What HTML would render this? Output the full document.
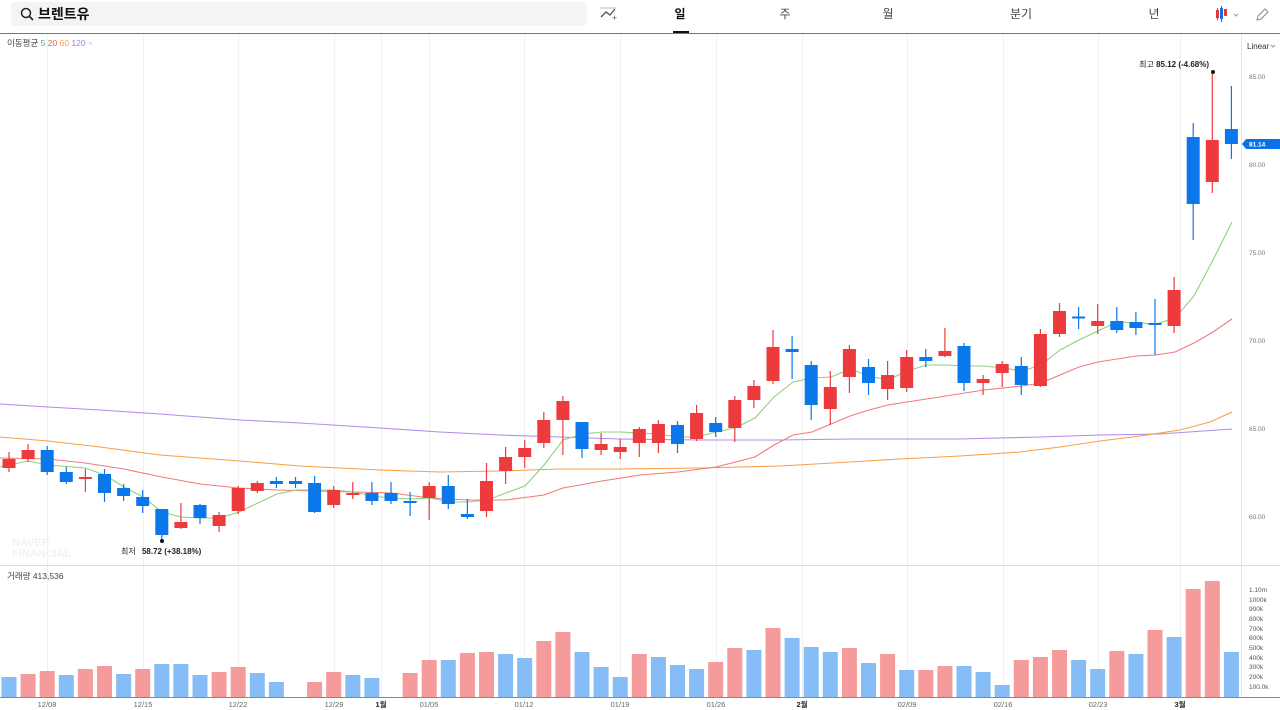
<!DOCTYPE html>
<html><head><meta charset="utf-8">
<style>
body{margin:0;width:1280px;height:710px;overflow:hidden;background:#fff;font-family:"Liberation Sans","Noto Sans CJK KR",sans-serif;}
svg{display:block}
text{font-family:"Liberation Sans","Noto Sans CJK KR",sans-serif;}
</style></head><body>
<svg id="s" width="1280" height="710" viewBox="0 0 1280 710" xmlns="http://www.w3.org/2000/svg">
<rect x="0" y="0" width="1280" height="710" fill="#fff"/>
<!-- header -->
<rect x="11" y="2" width="576" height="24" rx="4" fill="#f3f4f6"/>
<circle cx="26" cy="13" r="4.5" fill="none" stroke="#222" stroke-width="1.5"/>
<line x1="29.5" y1="16.5" x2="33" y2="20" stroke="#222" stroke-width="1.6"/>
<text x="38" y="19" font-size="14" font-weight="bold" fill="#111">브렌트유</text>
<polyline points="601,17 606,12 610,15 615,9" fill="none" stroke="#555" stroke-width="1.3"/>
<line x1="600" y1="8" x2="616" y2="8" stroke="#bbb" stroke-width="1"/>
<text x="612" y="21" font-size="9" fill="#555">+</text>
<text x="680" y="18" font-size="12" font-weight="bold" fill="#111" text-anchor="middle">일</text>
<rect x="673" y="31" width="16" height="2.5" fill="#111"/>
<text x="785" y="18" font-size="12" fill="#444" text-anchor="middle">주</text>
<text x="888" y="18" font-size="12" fill="#444" text-anchor="middle">월</text>
<text x="1021" y="18" font-size="12" fill="#444" text-anchor="middle">분기</text>
<text x="1154" y="18" font-size="12" fill="#444" text-anchor="middle">년</text>
<rect x="1216" y="10" width="3" height="8" fill="#e8363a"/><line x1="1217.5" y1="8" x2="1217.5" y2="20" stroke="#e8363a"/>
<rect x="1220" y="8" width="3" height="11" fill="#0a72e6"/><line x1="1221.5" y1="6" x2="1221.5" y2="22" stroke="#0a72e6"/>
<rect x="1224" y="9" width="3" height="7" fill="#e8363a"/>
<polyline points="1234,14 1236,16 1238,14" fill="none" stroke="#999"/>
<path d="M1257,20 L1258,16 L1265,9 L1268,12 L1261,19 Z" fill="none" stroke="#888"/>
<line x1="0" y1="33.5" x2="1280" y2="33.5" stroke="#777" stroke-width="1"/>
<g id="grid" stroke="#f0f0f0" stroke-width="1"></g>
<line x1="1241.5" y1="34" x2="1241.5" y2="697" stroke="#e6e6e6"/>
<line x1="0" y1="565.5" x2="1280" y2="565.5" stroke="#ddd"/>
<line x1="0" y1="697.5" x2="1280" y2="697.5" stroke="#888"/>
<!-- legend -->
<text x="7" y="46" font-size="8.5" fill="#444">이동평균 <tspan fill="#5cb85c">5</tspan> <tspan fill="#f0595c">20</tspan> <tspan fill="#f5a043">60</tspan> <tspan fill="#a77de0">120</tspan> <tspan fill="#ccc">×</tspan></text>
<text x="7" y="579" font-size="8.5" fill="#444">거래량 413,536</text>
<text x="12" y="546" font-size="11" font-weight="bold" fill="#f2f2f2">NAVER</text>
<text x="12" y="557" font-size="11" font-weight="bold" fill="#f2f2f2">FINANCIAL</text>
<!-- right axis -->
<text x="1247" y="49" font-size="8" fill="#333">Linear</text>
<polyline points="1271,45 1273,47 1275,45" fill="none" stroke="#999"/>
<g font-size="6.5" fill="#777">
<text x="1249" y="79">85.00</text><text x="1249" y="167">80.00</text><text x="1249" y="255">75.00</text>
<text x="1249" y="343">70.00</text><text x="1249" y="431">65.00</text><text x="1249" y="519">60.00</text>
</g>
<path d="M1242,144 L1246,139 L1280,139 L1280,149 L1246,149 Z" fill="#0a72e6"/>
<text x="1249" y="146.5" font-size="6.5" font-weight="bold" fill="#fff">81.14</text>
<g font-size="6.5" fill="#555">
<text x="1249" y="592">1.10m</text><text x="1249" y="602">1000k</text><text x="1249" y="611">900k</text>
<text x="1249" y="621">800k</text><text x="1249" y="631">700k</text><text x="1249" y="640">600k</text>
<text x="1249" y="650">500k</text><text x="1249" y="660">400k</text><text x="1249" y="669">300k</text>
<text x="1249" y="679">200k</text><text x="1249" y="689">100.0k</text>
</g>
<g font-size="7.5" fill="#666" text-anchor="middle">
<text x="47" y="707">12/08</text><text x="143" y="707">12/15</text><text x="238" y="707">12/22</text>
<text x="334" y="707">12/29</text><text x="381" y="707" fill="#222" font-weight="bold">1월</text><text x="429" y="707">01/05</text>
<text x="524" y="707">01/12</text><text x="620" y="707">01/19</text><text x="716" y="707">01/26</text>
<text x="802" y="707" fill="#222" font-weight="bold">2월</text><text x="907" y="707">02/09</text><text x="1003" y="707">02/16</text>
<text x="1098" y="707">02/23</text><text x="1180" y="707" fill="#222" font-weight="bold">3월</text>
</g>
<g id="vol"></g>
<g id="ma" fill="none" stroke-width="1.1"></g>
<g id="cdl"></g>
<circle cx="1213" cy="72" r="2" fill="#111"/>
<text x="1209" y="67" font-size="8" fill="#222" text-anchor="end">최고 <tspan font-weight="bold">85.12 (-4.68%)</tspan></text>
<circle cx="162" cy="541" r="2" fill="#111"/>
<text x="121" y="554" font-size="8" fill="#222">최저 <tspan font-weight="bold" dx="4">58.72 (+38.18%)</tspan></text>
</svg>
<script>
var NS="http://www.w3.org/2000/svg";
function el(p,t,a){var e=document.createElementNS(NS,t);for(var k in a)e.setAttribute(k,a[k]);document.getElementById(p).appendChild(e);return e;}
[47,143,238,334,381,429,524,620,716,802,907,1003,1098,1180].forEach(function(x){el("grid","line",{x1:x+.5,y1:34,x2:x+.5,y2:697});});
// candles: color(r/b), bodyTop, bodyBot, high, low
var C=[["r",459,468,452,472],["r",450,459,444,462],["b",450,472,446,475],["b",472,482,467,484],["r",477,479,469,492],
["b",474,493,469,502],["b",488,496,484,501],["b",497,506,490,513],["b",509,535,509,539],["r",522,528,503,529],
["b",505,518,504,524],["r",515,526,512,532],["r",488,511,486,514],["r",483,491,481,493],["b",481,484,477,488],
["b",481,484,477,488],["b",483,512,476,513],["r",490,505,486,508],["r",493,495,482,499],["b",493,501,482,505],
["b",493,501,482,504],["b",501,503,492,516],["r",486,498,482,520],["b",486,504,475,509],["b",514,517,499,519],
["r",481,511,463,517],["r",457,471,447,484],["r",448,457,440,468],["r",420,443,412,448],["r",401,420,396,455],
["b",422,449,422,458],["r",444,450,433,455],["r",447,452,439,459],["r",429,443,427,457],["r",424,443,420,453],
["b",425,444,421,453],["r",413,439,405,441],["b",423,432,417,437],["r",400,428,396,442],["r",386,400,380,408],
["r",347,381,330,384],["b",349,352,336,379],["b",365,405,361,420],["r",387,409,371,425],["r",349,377,345,393],
["b",367,383,359,395],["r",375,389,361,400],["r",357,388,350,392],["b",357,361,349,367],["r",351,356,328,357],
["b",346,383,343,391],["r",379,383,375,395],["r",364,373,361,387],["b",366,385,357,395],["r",334,386,329,387],
["r",311,334,303,337],["b",316.5,318,307,329],["r",321,326,304,334],["b",321,330,307,333],["b",322,328,312,335],
["b",323,325,299,355],["r",290,326,277,333],["b",137,204,123,240],["r",140,182,72,193],["b",129,144,86,159]];
C.forEach(function(c,i){var x=9+19.1*i,col=c[0]=="r"?"#ec3a3d":"#0a77ea";
el("cdl","line",{x1:x,y1:c[3],x2:x,y2:c[4],stroke:col,"stroke-width":1.2});
el("cdl","rect",{x:x-6.5,y:c[1],width:13,height:Math.max(2,c[2]-c[1]),fill:col});});
// volume
var V=[["b",677],["r",674],["r",671],["b",675],["r",669],["r",666],["b",674],["r",669],["b",664],["b",664],["b",675],["r",672],["r",667],["b",673],["b",682],null,["r",682],["r",672],["b",675],["b",678],null,
["r",673],["r",660],["b",660],["r",653],["r",652],["b",654],["b",658],["r",641],["r",632],["b",652],["b",667],["b",677],["r",654],["b",657],["b",665],["b",669],["r",662],["r",648],["b",650],["r",628],["b",638],["b",647],["b",652],["r",648],["b",663],["r",654],["b",670],["r",670],["r",666],["b",666],["b",672],["b",685],["r",660],["r",657],["r",650],["b",660],["b",669],["r",651],["b",654],["r",630],["b",637],["r",589],["r",581],["b",652]];
V.forEach(function(v,i){if(!v)return;var x=9+19.1*i;el("vol","rect",{x:x-7.5,y:v[1],width:15,height:697-v[1],fill:v[0]=="r"?"#f59b9c":"#86bdf6"});});
function pl(pts,col){el("ma","polyline",{points:pts,stroke:col});}
pl("0,404 48,407 100,410 160,414 240,420 300,423 380,428 440,432 500,435 560,437 620,439 700,440 780,440 850,439 960,439 1040,437 1100,435 1160,434 1232,429","#b48be6");
pl("0,437 48,441 100,447 160,455 240,461 300,466 380,470 440,472 500,471 560,469 620,469 700,468 780,466 850,462 900,459 960,456 1020,452 1060,447 1100,441 1140,436 1180,430 1210,422 1232,412","#f7a04a");
pl("0,458 48,459 85,463 124,469 162,477 200,484 239,488 277,490 315,491 354,492 392,493 430,498 468,500 506,500 544,495 563,488 602,481 640,475 678,472 716,467 755,457 774,445 793,435 812,432 831,424 850,416 869,410 888,405 907,402 946,396 984,390 1022,386 1041,383 1060,375 1079,367 1098,362 1117,359 1136,356 1156,355 1175,352 1194,343 1213,332 1232,319","#f27a7c");
pl("0,467 28,461 48,465 85,468 105,475 124,487 143,497 162,512 181,517 200,518 220,518 239,512 258,503 277,494 296,490 315,490 334,490 354,492 372,496 392,498 411,499 430,498 449,502 468,502 487,500 506,493 525,486 544,465 563,440 583,434 602,432 621,432 640,433 659,434 678,437 697,437 716,432 735,428 755,418 774,397 793,382 812,378 831,377 850,369 869,376 888,380 907,371 927,365 946,365 965,366 984,366 1003,368 1022,371 1041,365 1060,350 1079,340 1098,331 1117,322 1136,323 1156,324 1175,318 1194,296 1213,260 1232,222","#8fd07e");
</script>
</body></html>
